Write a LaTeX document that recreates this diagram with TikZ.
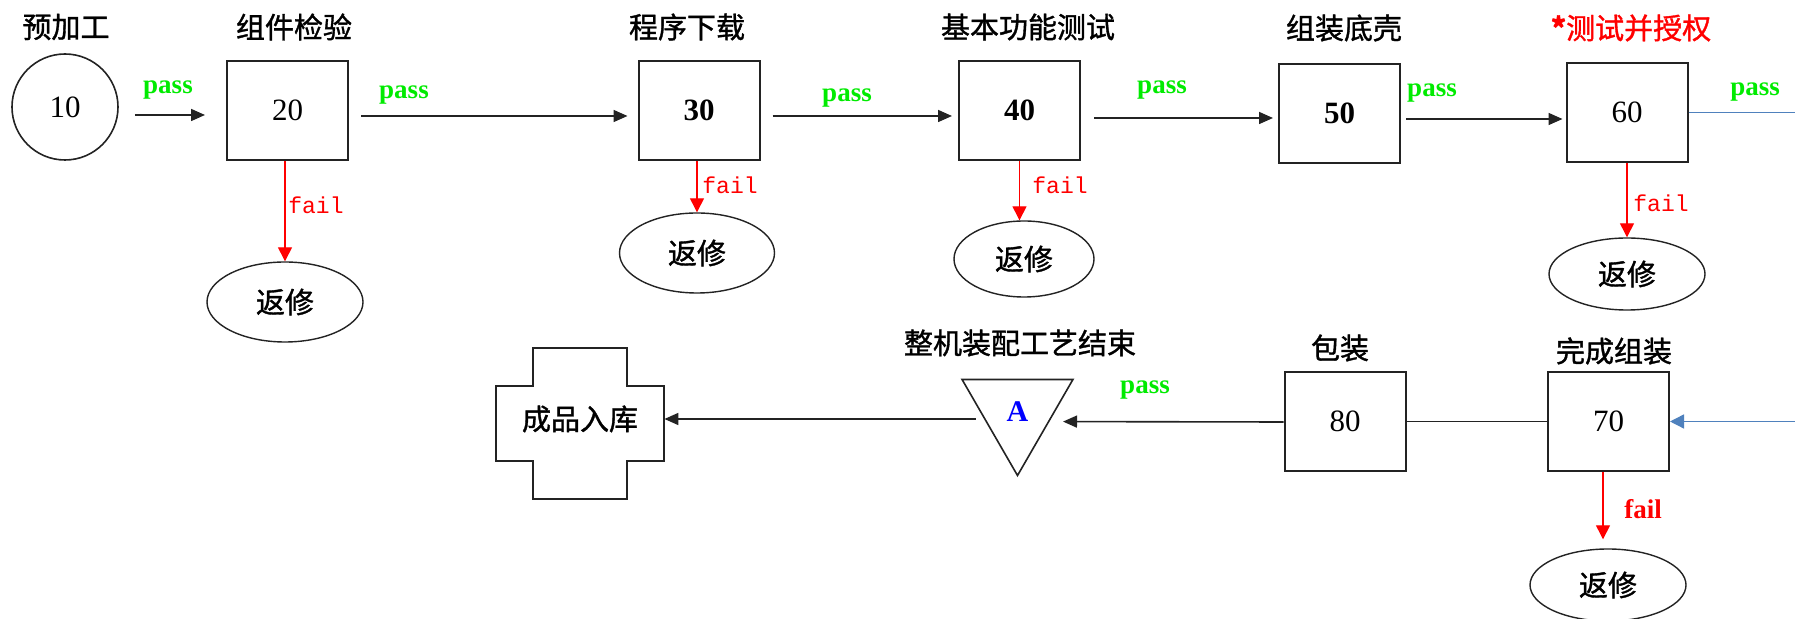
\documentclass[tikz,border=0pt]{standalone}
\usepackage{fontspec}
\setmainfont{Liberation Serif}
\newfontfamily\cjk{Noto Sans CJK SC}[FakeBold=1.2]
\newfontfamily\monof{Liberation Mono}
\usetikzlibrary{shapes.geometric,arrows.meta,calc}
\definecolor{passgreen}{RGB}{0,235,0}
\definecolor{lineblue}{RGB}{79,129,189}
\definecolor{edgec}{RGB}{35,35,35}
\begin{document}
\begin{tikzpicture}[x=0.5pt,y=-0.5pt,
  box/.style={draw=edgec, line width=1pt, minimum width=60.5pt, minimum height=49.5pt, inner sep=0pt, font=\fontsize{15.5}{15.5}\selectfont},
  boldbox/.style={box, font=\fontsize{15.5}{15.5}\selectfont\bfseries},
  title/.style={font=\cjk\fontsize{14.5}{14.5}\selectfont, inner sep=0pt},
  passlbl/.style={font=\fontsize{13.5}{13.5}\selectfont\bfseries, text=passgreen, inner sep=0pt},
  faillbl/.style={font=\monof\fontsize{11.5}{11.5}\selectfont, text=red, inner sep=0pt},
  failbold/.style={font=\fontsize{13.5}{13.5}\selectfont\bfseries, text=red, inner sep=0pt},
  repair/.style={ellipse, draw=edgec, line width=0.7pt, inner sep=0pt, font=\cjk\fontsize{14.5}{14.5}\selectfont},
  arr/.style={draw=edgec, line width=0.8pt, -{Triangle[length=7pt,width=6pt]}},
  plainline/.style={draw=edgec, line width=0.8pt},
  failarr/.style={draw=red, line width=0.7pt, -{Triangle[length=7pt,width=7pt]}},
  bluearr/.style={draw=lineblue, line width=0.7pt, -{Triangle[length=7pt,width=7pt]}},
  blueline/.style={draw=lineblue, line width=0.7pt}
]
\useasboundingbox[fill=white] (0,0) rectangle (1795,619);

% top row nodes
\node[circle, draw=edgec, line width=0.8pt, minimum size=53pt, inner sep=0pt, font=\fontsize{15.5}{15.5}\selectfont] (n10) at (65,107) {10};
\node[box] (n20) at (287.5,110.5) {20};
\node[boldbox] (n30) at (699,110.5) {30};
\node[boldbox] (n40) at (1019.5,110.5) {40};
\node[boldbox] (n50) at (1339.5,113.5) {50};
\node[box] (n60) at (1627,112.5) {60};

% titles
\node[title] (t10) at (66,27) {预加工};
\node[title] (t20) at (294,27) {组件检验};
\node[title] (t30) at (687,27) {程序下载};
\node[title] (t40) at (1028,27) {基本功能测试};
\node[title] (t50) at (1344,28) {组装底壳};
\node[title, text=red] (t60) at (1631,28) {\textbf{*}测试并授权};

% repair ellipses
\node[repair, minimum width=78pt, minimum height=40pt] (r20) at (285,302) {返修};
\node[repair, minimum width=77.5pt, minimum height=40pt] (r30) at (697,253) {返修};
\node[repair, minimum width=70pt, minimum height=38pt] (r40) at (1024,259) {返修};
\node[repair, minimum width=78pt, minimum height=36pt] (r60) at (1627,274) {返修};
\node[repair, minimum width=78pt, minimum height=36pt] (r70) at (1608,585) {返修};

% bottom row nodes
\node[box] (n70) at (1608.5,421.5) {70};
\node[box] (n80) at (1345,421.5) {80};
\node[regular polygon, regular polygon sides=3, shape border rotate=180, draw=edgec, line width=0.8pt, minimum size=64pt, inner sep=0pt, text=blue, font=\fontsize{15}{15}\selectfont\bfseries] (A) at (1017.5,411.5) {\raisebox{-2.5pt}{A}};
\node[inner sep=0pt, minimum width=84pt, minimum height=40pt, font=\cjk\fontsize{14.5}{14.5}\selectfont] (store) at (580,419) {成品入库};
\draw[plainline] ($(store.center)+(-47,-71)$) -- ++(94,0) -- ++(0,38) -- ++(37,0) -- ++(0,75) -- ++(-37,0) -- ++(0,38) -- ++(-94,0) -- ++(0,-38) -- ++(-37,0) -- ++(0,-75) -- ++(37,0) -- cycle;

\node[title] (t70) at (1614,351) {完成组装};
\node[title] (t80) at (1340,348) {包装};
\node[title] (tA) at (1020,343) {整机装配工艺结束};

% free ends at the right edge
\coordinate (rout) at (1795,112.5);
\coordinate (rin) at (1795,421.5);

% top row arrows
\draw[arr, shorten <=8pt, shorten >=10.5pt] ([yshift=-4pt]n10.east) -- ([yshift=-2.25pt]n20.west);
\draw[arr, shorten <=6pt, shorten >=5pt] ([yshift=-2.75pt]n20.east) -- ([yshift=-2.75pt]n30.west);
\draw[arr, shorten <=6pt, shorten >=3pt] ([yshift=-2.75pt]n30.east) -- ([yshift=-2.75pt]n40.west);
\draw[arr, shorten <=6.5pt, shorten >=2.5pt] ([yshift=-3.75pt]n40.east) -- ([yshift=-2.25pt]n50.west);
\draw[arr, shorten <=2.5pt, shorten >=1.5pt] ([yshift=-2.75pt]n50.east) -- ([yshift=-3.25pt]n60.west);
\draw[blueline] (n60.east) -- (rout);

\node[passlbl] (p1) at (168,90) {pass};
\node[passlbl] (p2) at (404,95) {pass};
\node[passlbl] (p3) at (847,98) {pass};
\node[passlbl] (p4) at (1162,90) {pass};
\node[passlbl] (p5) at (1432,93) {pass};
\node[passlbl] (p6) at (1755,92) {pass};

% fail arrows
\draw[failarr] (r20.north |- n20.south) -- (r20.north);
\draw[failarr] (r30.north |- n30.south) -- (r30.north);
\draw[failarr] (n40.south) -- (n40.south |- r40.north);
\draw[failarr] (n60.south) -- (r60.north);
\draw[failarr, shorten >=4.5pt] ([xshift=-2.75pt]n70.south) -- ([xshift=-2.5pt]r70.north);

\node[faillbl] (f20) at (316,205) {fail};
\node[faillbl] (f30) at (730,185) {fail};
\node[faillbl] (f40) at (1060,185) {fail};
\node[faillbl] (f60) at (1661,203) {fail};
\node[failbold] (f70) at (1643,509) {fail};

% bottom row connectors
\draw[bluearr] (rin) -- (n70.east);
\draw[plainline] (n70.west) -- (n80.east);
\draw[arr, shorten >=22.75pt] ([yshift=-0.25pt]n80.west) -- (A.center |- n80.west);
\node[passlbl] (p7) at (1145,390) {pass};
\draw[arr, shorten <=21pt] (A.center |- store.east) -- (store.east);
\end{tikzpicture}
\end{document}
